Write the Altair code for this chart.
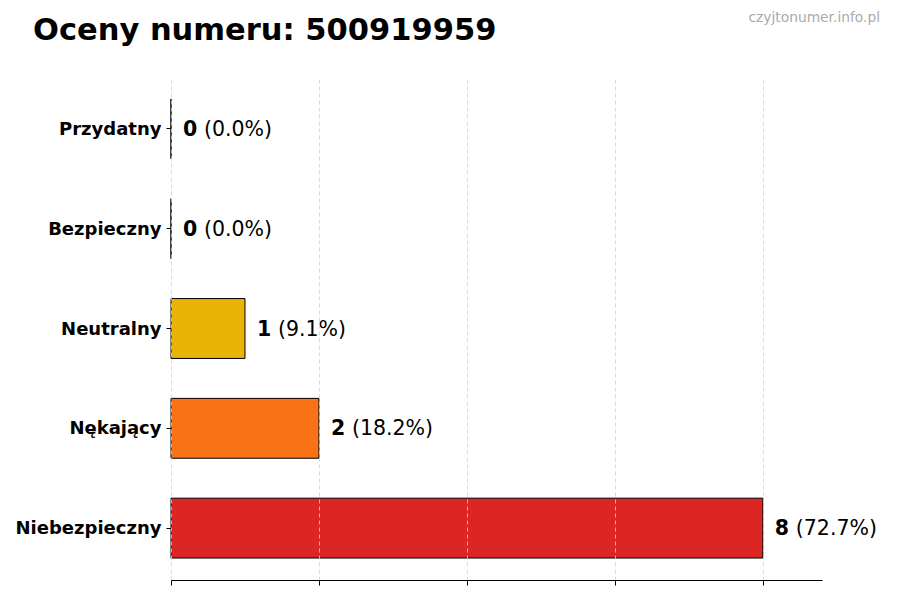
import altair as alt
import pandas as pd

categories = ["Przydatny", "Bezpieczny", "Neutralny", "Nękający", "Niebezpieczny"]
values = [0, 0, 1, 2, 8]
colors = ["#22c55e", "#16a34a", "#eab308", "#f97316", "#dc2626"]
title_text = "Oceny numeru: 500919959"
watermark = "czyjtonumer.info.pl"
x_ticks = [0, 2, 4, 6, 8]

total = sum(values)
df = pd.DataFrame({
    "cat": categories,
    "val": values,
    "color": colors,
    "num": [str(v) for v in values],
    "pct": [f"({v / total * 100:.1f}%)" for v in values],
})

FONT = "DejaVu Sans"

x_enc = alt.X("val:Q", scale=alt.Scale(domain=[0, 8.8], nice=False, zero=True),
              axis=alt.Axis(values=x_ticks, labels=False, title=None, tickSize=5,
                            tickColor="black", domainColor="black", domainWidth=1,
                            grid=True, gridColor="#d0d0d0", gridDash=[4, 3], gridWidth=0.8,
                            zindex=1))
y_enc = alt.Y("cat:N", sort=categories,
              scale=alt.Scale(paddingInner=0.4, paddingOuter=0.22),
              axis=alt.Axis(title=None, domain=False, tickSize=5, tickColor="black",
                            labelPadding=5, labelFont=FONT, labelFontSize=18,
                            labelFontWeight="bold", labelColor="black", labelBaseline="middle",
                            labelOffset=1))

base = alt.Chart(df)

bars = base.mark_bar(stroke="black", strokeWidth=1).encode(
    x=x_enc, y=y_enc,
    color=alt.Color("color:N", scale=None),
)

nums = base.mark_text(align="left", baseline="middle", dx=12, dy=1, font=FONT,
                      fontSize=20.5, fontWeight="bold", color="black").encode(
    x="val:Q", y=alt.Y("cat:N", sort=categories), text="num:N")

pcts = base.mark_text(align="left", baseline="middle", dx=33, dy=1, font=FONT,
                      fontSize=20.5, color="black").encode(
    x="val:Q", y=alt.Y("cat:N", sort=categories), text="pct:N")

title_df = pd.DataFrame({"t": [title_text]})
title = alt.Chart(title_df).mark_text(align="left", baseline="alphabetic", font=FONT,
                                      fontSize=30.5, fontWeight="bold", color="black").encode(
    x=alt.value(-138), y=alt.value(-37), text="t:N")

wm_df = pd.DataFrame({"t": [watermark]})
wm = alt.Chart(wm_df).mark_text(align="right", baseline="alphabetic", font=FONT,
                                fontSize=13.8, color="#aaaaaa").encode(
    x=alt.value(709), y=alt.value(-55), text="t:N")

chart = alt.layer(bars, nums, pcts, title, wm).properties(
    width=651, height=503,
    autosize=alt.AutoSizeParams(type="none"),
    padding={"left": 163, "top": 69, "right": 70, "bottom": 12},
).configure(background="white").configure_view(stroke=None)

chart.save("out.html", embed_options={"renderer": "svg", "actions": False})
